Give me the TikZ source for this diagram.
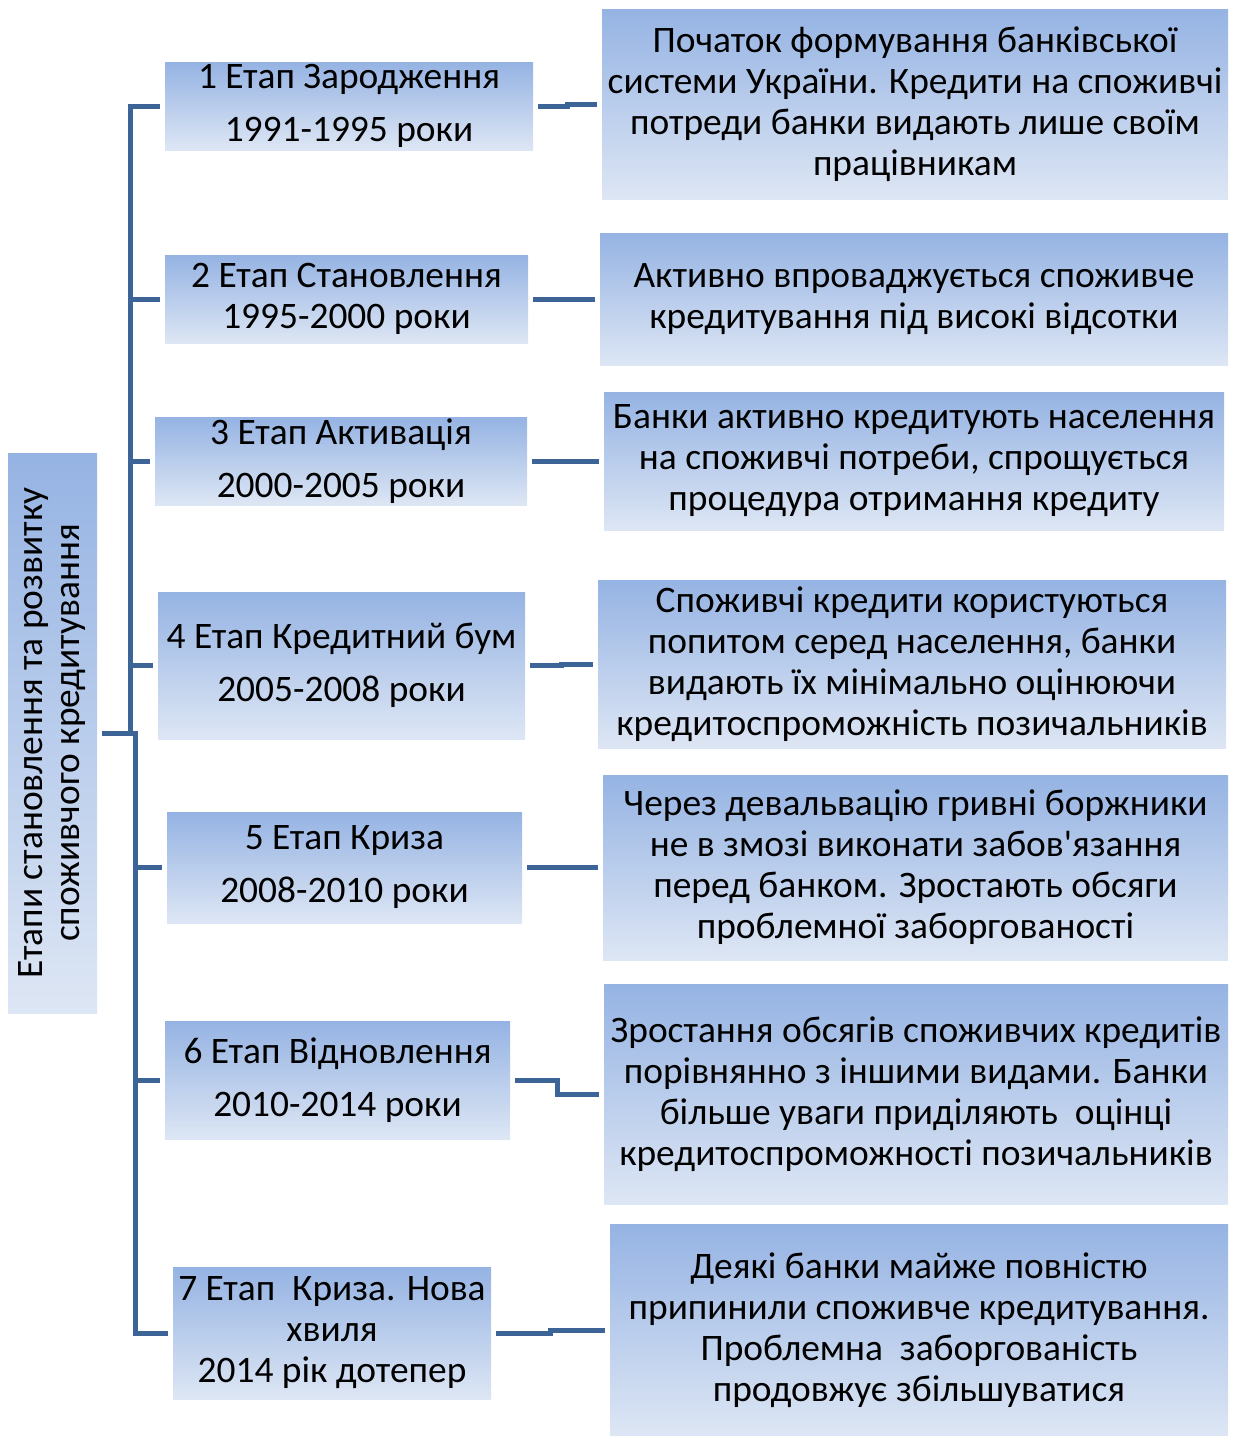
\documentclass[tikz,border=0pt]{standalone}
\usepackage{fontspec}
\setmainfont{Carlito}[Ligatures=TeXOff]
\usetikzlibrary{calc}
\definecolor{boxtop}{RGB}{149,179,227}
\definecolor{boxbottom}{RGB}{221,230,244}
\definecolor{linkblue}{RGB}{61,100,151}

\begin{document}
\begin{tikzpicture}[
  x=0.5pt, y=-0.5pt,
  stage/.style={inner sep=0pt, align=center, top color=boxtop, bottom color=boxbottom,
    font=\fontsize{18.7}{20.5}\selectfont},
  note/.style={stage},
  root/.style={stage, rotate=90, font=\fontsize{18.7}{18.5}\selectfont},
  link/.style={draw=linkblue, line width=2.5pt, shorten <=2.5pt, shorten >=2.5pt},
]
  \useasboundingbox (0,0) rectangle (1233,1436);

  % Root
  \node[root, minimum width=280pt, minimum height=44.5pt] (root) at (52.5,733)
    {Етапи становлення та розвитку\\споживчого кредитування};

  % Stages
  \node[stage, minimum width=184pt, minimum height=44pt] (s1) at (349,106)
    {1 Етап Зародження\\[6pt]1991-1995 роки};
  \node[stage, minimum width=181.5pt, minimum height=44pt] (s2) at (346.5,299)
    {2 Етап Становлення\\1995-2000 роки};
  \node[stage, minimum width=186pt, minimum height=44pt] (s3) at (341,461)
    {3 Етап Активація\\[6pt]2000-2005 роки};
  \node[stage, minimum width=183.5pt, minimum height=73.5pt] (s4) at (341.5,665.5)
    {4 Етап Кредитний бум\\[6pt]2005-2008 роки};
  \node[stage, minimum width=177.5pt, minimum height=55.5pt] (s5) at (344.5,867.5)
    {5 Етап Криза\\[6pt]2008-2010 роки};
  \node[stage, minimum width=172.5pt, minimum height=59pt] (s6) at (337.5,1080)
    {6 Етап Відновлення\\[6pt]2010-2014 роки};
  \node[stage, minimum width=159pt, minimum height=66pt] (s7) at (332,1333)
    {7 Етап\ \ Криза. Нова\\хвиля\\2014 рік дотепер};

  % Notes
  \node[note, minimum width=313pt, minimum height=95pt] (r1) at (915,104)
    {Початок формування банківської\\системи України. Кредити на споживчі\\потреди банки видають лише своїм\\працівникам};
  \node[note, minimum width=314pt, minimum height=66pt] (r2) at (914,299)
    {Активно впроваджується споживче\\кредитування під високі відсотки};
  \node[note, minimum width=310pt, minimum height=69pt] (r3) at (914,461)
    {Банки активно кредитують населення\\на споживчі потреби, спрощується\\процедура отримання кредиту};
  \node[note, minimum width=314pt, minimum height=84pt] (r4) at (912,664)
    {Споживчі кредити користуються\\попитом серед населення, банки\\видають їх мінімально оцінюючи\\кредитоспроможність позичальників};
  \node[note, minimum width=312.5pt, minimum height=92.5pt] (r5) at (915.5,867.5)
    {Через девальвацію гривні боржники\\не в змозі виконати забов'язання\\перед банком. Зростають обсяги\\проблемної заборгованості};
  \node[note, minimum width=312pt, minimum height=110pt] (r6) at (916,1094)
    {Зростання обсягів споживчих кредитів\\порівнянно з іншими видами. Банки\\більше уваги приділяють\ \ оцінці\\кредитоспроможності позичальників};
  \node[note, minimum width=309pt, minimum height=106pt] (r7) at (919,1330)
    {Деякі банки майже повністю\\припинили споживче кредитування.\\Проблемна\ \ заборгованість\\продовжує збільшуватися};

  % Tree links
  \foreach \i in {1,...,4}
    \draw[link] (root.south) -- ++(16.5pt,0) |- (s\i.west);
  \foreach \i in {5,...,7}
    \draw[link] (root.south) -- ++(19pt,0) |- (s\i.west);

  % Stage to note
  \foreach \i in {1,...,7}
    \draw[link] (s\i.east) -| ($(s\i.east)!.5!(r\i.west)$) |- (r\i.west);

\end{tikzpicture}
\end{document}
